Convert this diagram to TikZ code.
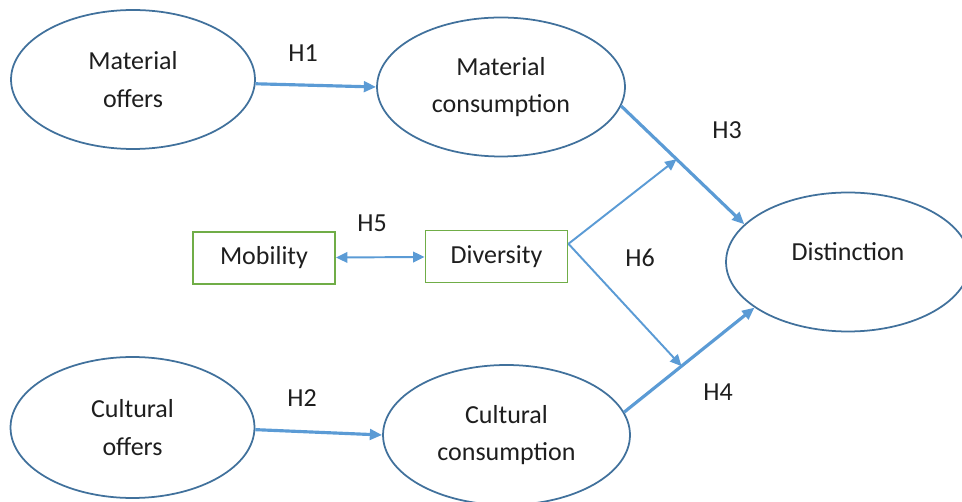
\documentclass[tikz,border=0pt]{standalone}
\usepackage{fontspec}
\setmainfont{Carlito}
\usepackage{tikz}
\usetikzlibrary{positioning}
\usetikzlibrary{shapes.geometric}
\usetikzlibrary{arrows.meta}

\definecolor{ovalblue}{RGB}{65,113,156}
\definecolor{arrowblue}{RGB}{91,155,213}
\definecolor{boxgreen}{RGB}{112,173,71}
\definecolor{textgray}{RGB}{30,30,30}

\tikzset{
	oval/.style={ellipse, draw=ovalblue, line width=1pt, minimum width=4.88cm, minimum height=2.78cm, inner sep=0pt, align=center},
	varbox/.style={rectangle, draw=boxgreen, line width=1.1pt, minimum width=2.84cm, minimum height=1.04cm},
	mainarrow/.style={draw=arrowblue, line width=1.8pt, -{Triangle[length=7pt,width=6pt]}},
	modarrow/.style={draw=arrowblue, line width=1.1pt, -{Triangle[length=6.5pt,width=6pt]}},
	hyp/.style={inner sep=0pt}
}

\begin{document}
\begin{tikzpicture}[x=0.02cm, y=-0.02cm, font=\fontsize{14.8}{21.3}\selectfont, text=textgray]
	\useasboundingbox (0,0) rectangle (962,502);

	% Constructs
	\node [oval] at (133,79.5) (moff) {Material\\offers};
	\node [oval, minimum width=4.96cm] at (501,87) (mcons) {Material\\consumption};
	\node [oval] at (848,262) (dist) {\raisebox{1pt}[0pt][0pt]{Distinction}};
	\node [oval, minimum height=2.82cm] at (132.5,427.5) (coff) {Cultural\\offers};
	\node [oval, minimum width=4.94cm, minimum height=2.8cm] at (506.5,435) (ccons) {Cultural\\consumption};

	% Moderators
	\node [varbox] at (264,258) (mob) {Mobility};
	\node [varbox] at (496.5,256.5) (div) {Diversity};

	% Hypothesis labels
	\node [hyp] at (303,53) (lH1) {H1};
	\node [hyp] at (302,398) (lH2) {H2};
	\node [hyp] at (727,130) (lH3) {H3};
	\node [hyp] at (718,392) (lH4) {H4};
	\node [hyp] at (372,223) (lH5) {H5};
	\node [hyp] at (640,258) (lH6) {H6};

	% Connections
	\draw [mainarrow] (moff.-2) -- (mcons.west);
	\draw [mainarrow] (coff.-1) -- (ccons.west);
	\draw [mainarrow] (mcons.-9) -- coordinate[pos=0.45] (onH3) (dist.160);
	\draw [mainarrow] (ccons.11) -- coordinate[pos=0.44] (onH4) (dist.206);
	\draw [modarrow, {Triangle[length=6.5pt,width=6pt]}-{Triangle[length=6.5pt,width=6pt]}] (mob) -- (div);
	\draw [modarrow] (div.10) -- (onH3);
	\draw [modarrow] (div.10) -- (onH4);

\end{tikzpicture}
\end{document}
